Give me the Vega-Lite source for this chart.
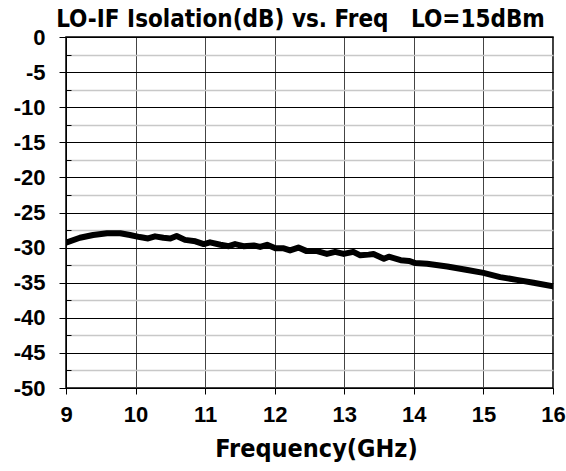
{
  "$schema": "https://vega.github.io/schema/vega-lite/v6.json",
  "autosize": "none",
  "width": 487,
  "height": 351,
  "padding": {"left": 66, "top": 37, "right": 13, "bottom": 83},
  "background": "white",
  "title": {
    "text": "LO-IF Isolation(dB) vs. Freq \u00a0\u00a0LO=15dBm",
    "font": "DejaVu Sans Condensed",
    "fontSize": 24,
    "fontWeight": "bold",
    "color": "black",
    "anchor": "middle",
    "dx": -9,
    "offset": -6
  },
  "config": {
    "view": {"stroke": "black", "strokeWidth": 1.5}
  },
  "data": {
    "values": [
      {"f": 9.0, "iso": -29.3},
      {"f": 9.2, "iso": -28.6},
      {"f": 9.39, "iso": -28.2},
      {"f": 9.59, "iso": -27.95},
      {"f": 9.78, "iso": -27.95},
      {"f": 9.92, "iso": -28.2},
      {"f": 10.06, "iso": -28.5},
      {"f": 10.18, "iso": -28.7},
      {"f": 10.28, "iso": -28.4},
      {"f": 10.4, "iso": -28.6},
      {"f": 10.5, "iso": -28.7},
      {"f": 10.59, "iso": -28.35},
      {"f": 10.71, "iso": -28.9},
      {"f": 10.86, "iso": -29.1},
      {"f": 10.98, "iso": -29.5},
      {"f": 11.07, "iso": -29.25},
      {"f": 11.22, "iso": -29.6},
      {"f": 11.34, "iso": -29.8},
      {"f": 11.43, "iso": -29.5},
      {"f": 11.55, "iso": -29.8},
      {"f": 11.7, "iso": -29.7},
      {"f": 11.79, "iso": -29.9},
      {"f": 11.89, "iso": -29.6},
      {"f": 12.01, "iso": -30.1},
      {"f": 12.13, "iso": -30.1},
      {"f": 12.22, "iso": -30.4},
      {"f": 12.34, "iso": -30.0},
      {"f": 12.46, "iso": -30.5},
      {"f": 12.61, "iso": -30.5},
      {"f": 12.75, "iso": -30.9},
      {"f": 12.87, "iso": -30.6},
      {"f": 12.99, "iso": -30.9},
      {"f": 13.13, "iso": -30.6},
      {"f": 13.23, "iso": -31.1},
      {"f": 13.35, "iso": -31.0},
      {"f": 13.42, "iso": -30.9},
      {"f": 13.57, "iso": -31.6},
      {"f": 13.64, "iso": -31.3},
      {"f": 13.81, "iso": -31.8},
      {"f": 13.93, "iso": -31.9},
      {"f": 14.02, "iso": -32.2},
      {"f": 14.19, "iso": -32.3},
      {"f": 14.48, "iso": -32.7},
      {"f": 14.77, "iso": -33.2},
      {"f": 15.0, "iso": -33.6},
      {"f": 15.24, "iso": -34.2},
      {"f": 15.48, "iso": -34.6},
      {"f": 15.72, "iso": -35.0},
      {"f": 16.0, "iso": -35.5}
    ]
  },
  "mark": {"type": "line", "color": "black", "strokeWidth": 6, "strokeJoin": "round", "strokeCap": "round", "clip": true},
  "encoding": {
    "x": {
      "field": "f",
      "type": "quantitative",
      "scale": {"domain": [9, 16], "nice": false, "zero": false},
      "axis": {
        "values": [9, 10, 11, 12, 13, 14, 15, 16],
        "title": "Frequency(GHz)",
        "titleFont": "DejaVu Sans Condensed",
        "titleFontWeight": "bold",
        "titleFontSize": 25,
        "titleColor": "black",
        "titleX": 250,
        "titlePadding": 11,
        "labelFont": "Liberation Sans",
        "labelFontWeight": "bold",
        "labelFontSize": 22,
        "labelColor": "black",
        "domainColor": "black",
        "tickColor": "black",
        "grid": true,
        "gridColor": "#444444",
        "gridWidth": 1,
        "gridOpacity": 1,
        "tickSize": 6,
        "labelPadding": 10,
        "labelFlush": false
      }
    },
    "y": {
      "field": "iso",
      "type": "quantitative",
      "scale": {"domain": [-50, 0], "nice": false},
      "axis": {
        "values": [0, -2.5, -5, -7.5, -10, -12.5, -15, -17.5, -20, -22.5, -25, -27.5, -30, -32.5, -35, -37.5, -40, -42.5, -45, -47.5, -50],
        "title": null,
        "labelFont": "Liberation Sans",
        "labelFontWeight": "bold",
        "labelFontSize": 22,
        "labelColor": "black",
        "domainColor": "black",
        "tickColor": "black",
        "grid": true,
        "gridColor": {"condition": {"test": "datum.value % 5 === 0", "value": "#000000"}, "value": "#c8c8c8"},
        "gridWidth": {"condition": {"test": "datum.value % 5 === 0", "value": 1}, "value": 1.5},
        "gridOpacity": 1,
        "tickSize": {"condition": {"test": "datum.value % 5 === 0", "value": 7}, "value": -5},
        "labelExpr": "datum.value % 5 === 0 ? toString(datum.value) : ''",
        "labelPadding": 14,
        "labelFlush": false
      }
    }
  }
}
